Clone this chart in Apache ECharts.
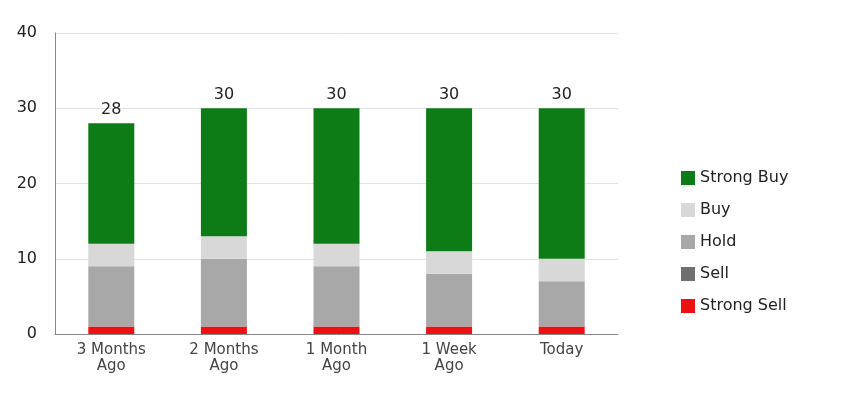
<!DOCTYPE html>
<html><head><meta charset="utf-8">
<script src="https://cdn.jsdelivr.net/npm/echarts@6/dist/echarts.min.js"></script>
<style>html,body{margin:0;padding:0;background:#fff}#c{width:841px;height:400px}</style>
</head><body><div id="c"></div>
<script>
const categories = ['3 Months\nAgo','2 Months\nAgo','1 Month\nAgo','1 Week\nAgo','Today'];
const strongSell = [1,1,1,1,1];
const sell = [0,0,0,0,0];
const hold = [8,9,8,7,6];
const buy = [3,3,3,3,3];
const strongBuy = [16,17,18,19,20];
const totals = [28,30,30,30,30];
const yTicks = [0,10,20,30,40];

const font = 'DejaVu Sans';
function s(name, data, color, top) {
  const o = {name, type:'bar', stack:'a', data, barWidth:46, itemStyle:{color}};
  if (top) o.label = {show:true, position:'top', color:'#222', fontSize:16, fontFamily:font,
    formatter: p => totals[p.dataIndex]};
  return o;
}
const chart = echarts.init(document.getElementById('c'));
chart.setOption({
  animation:false,
  grid:{left:55, right:223, top:33, bottom:66},
  legend:{orient:'vertical', left:676, top:165, itemWidth:14, itemHeight:14, itemGap:16,
    icon:'rect', textStyle:{fontSize:16, fontFamily:font, color:'#222'},
    data:['Strong Buy','Buy','Hold','Sell','Strong Sell']},
  xAxis:{type:'category', data:categories, axisTick:{show:false},
    axisLine:{lineStyle:{color:'#888'}},
    axisLabel:{fontSize:15, fontFamily:font, color:'#444', lineHeight:16}},
  yAxis:{type:'value', min:0, max:40, interval:10,
    axisLine:{show:true, lineStyle:{color:'#888'}},
    splitLine:{lineStyle:{color:'#e3e3e3'}},
    axisLabel:{fontSize:16, fontFamily:font, color:'#222', margin:18,
      formatter: v => yTicks.includes(v) ? v : ''}},
  series:[
    s('Strong Sell', strongSell, '#ee1111'),
    s('Sell', sell, '#6f6f6f'),
    s('Hold', hold, '#a8a8a8'),
    s('Buy', buy, '#d8d8d8'),
    s('Strong Buy', strongBuy, '#0e7c16', true)
  ]
});
</script></body></html>
